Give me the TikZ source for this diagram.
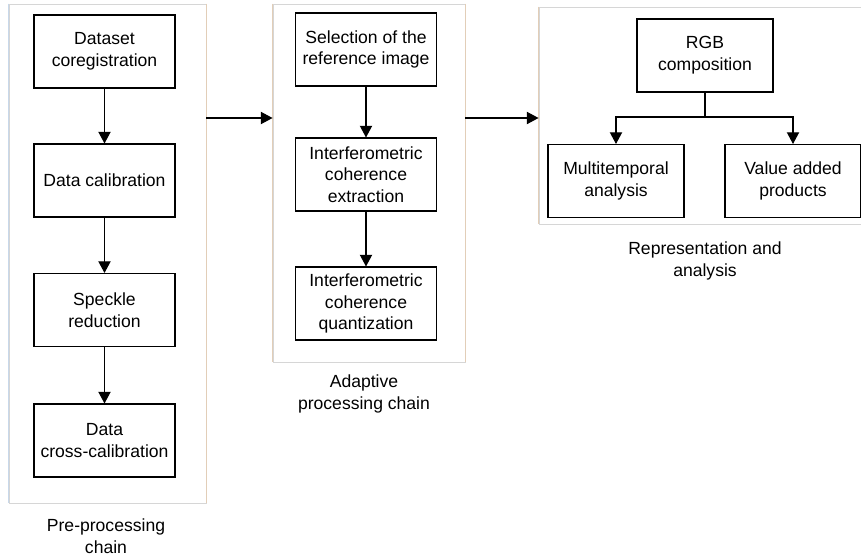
\documentclass[tikz,border=0pt]{standalone}
\usepackage{fontspec}
\setmainfont{Liberation Sans}
\usetikzlibrary{arrows.meta}

\definecolor{framegray}{RGB}{214,214,214}
\definecolor{frametan}{RGB}{226,206,184}
\definecolor{frameblue}{RGB}{200,216,234}

\tikzset{
  stepbox/.style={draw, line width=0.9pt, align=center, inner sep=2pt,
    minimum width=141*0.03cm, minimum height=73*0.03cm,
    font=\fontsize{15}{18.5}\selectfont},
  chainframe/.style={draw=framegray, line width=0.8pt, inner sep=0pt},
  caption/.style={align=center, font=\fontsize{15}{18.5}\selectfont},
  flow/.style={line width=0.9pt, -{Triangle[length=10pt,width=10.5pt]}}
}

\begin{document}
\begin{tikzpicture}[x=0.03cm, y=-0.03cm]
        \useasboundingbox (0,0) rectangle (861,559);

        % Frames of the three chains
        \node (pre) [chainframe, minimum width=197*0.03cm, minimum height=499*0.03cm] at (107.5,253.5) {};
        \node (adapt) [chainframe, minimum width=192*0.03cm, minimum height=358*0.03cm] at (369,183) {};
        \node (repr) [chainframe, minimum width=330*0.03cm, minimum height=217*0.03cm] at (704,115.5) {};
        \draw[frameblue, line width=0.8pt] (pre.north west) -- (pre.south west);
        \draw[frametan, line width=0.8pt] (pre.north east) -- (pre.south east);
        \draw[frametan, line width=0.8pt] (adapt.north west) -- (adapt.south west);
        \draw[frametan, line width=0.8pt] (adapt.north east) -- (adapt.south east);
        \draw[frametan, line width=0.8pt] (repr.north west) -- (repr.south west);

        % Pre-processing chain
        \node (coreg) [stepbox] at (104.5,51.5) {Dataset\\coregistration};
        \node (calib) [stepbox] at (104.5,180.5) {Data calibration};
        \node (speckle) [stepbox] at (104.5,310) {Speckle\\reduction};
        \node (xcalib) [stepbox] at (104.5,440.5) {Data\\cross-calibration};
        \node (precap) [caption] at (106,536) {Pre-processing\\chain};

        \draw[flow] (coreg) -- (calib);
        \draw[flow] (calib) -- (speckle);
        \draw[flow] (speckle) -- (xcalib);

        % Adaptive processing chain
        \node (refimg) [stepbox] at (366,49.5) {Selection of the\\reference image};
        \node (cohext) [stepbox] at (366,174.5) {Interferometric\\coherence\\extraction};
        \node (cohquant) [stepbox] at (366,303.5) {Interferometric\\coherence\\quantization};
        \node (adaptcap) [caption] at (364,394) {Adaptive\\processing chain};

        \draw[flow] (refimg) -- (cohext);
        \draw[flow] (cohext) -- (cohquant);

        % Representation and analysis
        \node (rgb) [stepbox, minimum width=136*0.03cm] at (705,55.5) {RGB\\composition};
        \node (multi) [stepbox, minimum width=136*0.03cm] at (616,181) {Multitemporal\\analysis};
        \node (vap) [stepbox, minimum width=136*0.03cm] at (793,181) {Value added\\products};
        \node (reprcap) [caption] at (705,261) {Representation and\\analysis};

        \coordinate (split) at (705,117);
        \draw[line width=0.9pt] (rgb) -- (split);
        \draw[flow] (split) -| (multi);
        \draw[flow] (split) -| (vap);

        % Links between the chains
        \coordinate (link) at (0,118);
        \draw[flow] (pre.east |- link) -- (adapt.west |- link);
        \draw[flow] (adapt.east |- link) -- (repr.west |- link);
      \end{tikzpicture}
\end{document}
